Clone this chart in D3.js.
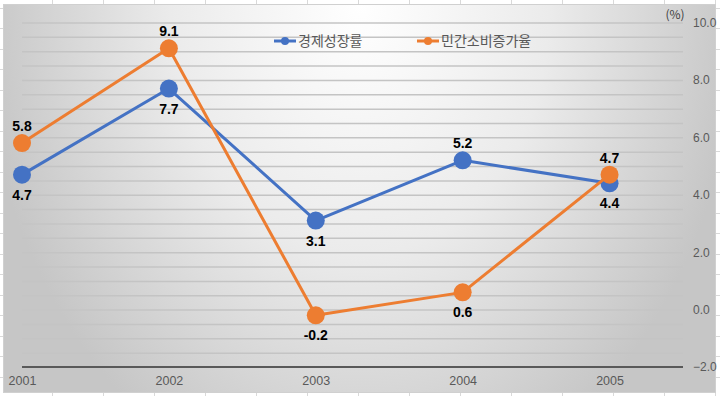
<!DOCTYPE html>
<html>
<head>
<meta charset="utf-8">
<script src="https://cdn.jsdelivr.net/npm/d3@7"></script>
<style>
  body { margin: 0; background: #fff; }
  svg { display: block; font-family: "Noto Sans CJK KR", "Noto Sans", sans-serif; }
</style>
</head>
<body>
<script>
const years = ["2001", "2002", "2003", "2004", "2005"];
const growth = [4.7, 7.7, 3.1, 5.2, 4.4];       // 경제성장률
const consumption = [5.8, 9.1, -0.2, 0.6, 4.7]; // 민간소비증가율
const yTicks = [-2, 0, 2, 4, 6, 8, 10];
const seriesNames = ["경제성장률", "민간소비증가율"];

const W = 720, H = 396;
const svg = d3.select("body").append("svg").attr("width", W).attr("height", H);

// spreadsheet cells behind the chart
const sheet = svg.append("g").attr("stroke", "#d9d9d9").attr("stroke-width", 1);
d3.range(52, W, 51).forEach(x => sheet.append("line").attr("x1", x + 0.5).attr("x2", x + 0.5).attr("y1", 0).attr("y2", H));
d3.range(7.5, H, 20.5).forEach(y => sheet.append("line").attr("x1", 0).attr("x2", W).attr("y1", Math.round(y) + 0.5).attr("y2", Math.round(y) + 0.5));

// chart area background: light at top centre, grey towards the sides
const defs = svg.append("defs");
const grad = defs.append("radialGradient").attr("id", "bg")
  .attr("gradientUnits", "userSpaceOnUse")
  .attr("cx", 360).attr("cy", 4).attr("fx", 360).attr("fy", 4).attr("r", 380)
  .attr("gradientTransform", "translate(360,4) scale(1,1.32) translate(-360,-4)");
grad.append("stop").attr("offset", 0).attr("stop-color", "#ffffff");
grad.append("stop").attr("offset", 0.5).attr("stop-color", "#ebebeb");
grad.append("stop").attr("offset", 1).attr("stop-color", "#c6c6c6");

svg.append("rect").attr("x", 3.5).attr("y", 4.5).attr("width", 712).attr("height", 388)
  .attr("fill", "url(#bg)").attr("stroke", "#d0d0d0");

const x = d3.scaleLinear().domain([0, 4.5]).range([22, 683]);
const y = d3.scaleLinear().domain([-2, 10]).range([367, 22.5]);

// minor gridlines every 0.5
const grid = svg.append("g").attr("transform", `translate(${x(4.5)},0)`)
  .call(d3.axisLeft(y).tickValues(d3.range(-1.5, 10.01, 0.5)).tickSize(x(4.5) - x(0)).tickFormat(""));
grid.select(".domain").remove();
grid.selectAll("line").attr("stroke", "#c4c4c4").attr("stroke-width", 1.5);

// baseline
svg.append("line").attr("x1", x(0)).attr("x2", x(4.5)).attr("y1", y(-2)).attr("y2", y(-2))
  .attr("stroke", "#595959").attr("stroke-width", 1.8);

// right value axis
const yAxis = svg.append("g").attr("transform", "translate(693,0)")
  .call(d3.axisRight(y).tickValues(yTicks).tickSize(0).tickPadding(0).tickFormat(d3.format(".1f")));
yAxis.select(".domain").remove();
yAxis.selectAll("text").attr("fill", "#595959").style("font-size", "12px")
  .style("font-family", "'Liberation Sans', 'Noto Sans', sans-serif");

svg.append("text").attr("x", 675).attr("y", 19).attr("text-anchor", "middle")
  .attr("fill", "#404040").style("font-size", "12px").text("(%)");

// category axis
const xAxis = svg.append("g").attr("transform", "translate(0,376)")
  .call(d3.axisBottom(x).tickValues(d3.range(years.length)).tickSize(0).tickPadding(0).tickFormat(i => years[i]));
xAxis.select(".domain").remove();
xAxis.selectAll("text").attr("fill", "#595959").style("font-size", "12.5px")
  .style("font-family", "'Liberation Sans', 'Noto Sans', sans-serif");

const colors = ["#4472C4", "#ED7D31"];
const series = [growth, consumption];
const line = d3.line().x((d, i) => x(i)).y(d => y(d));

series.forEach((vals, s) => {
  const g = svg.append("g");
  g.append("path").datum(vals).attr("d", line).attr("fill", "none")
    .attr("stroke", colors[s]).attr("stroke-width", 3).attr("stroke-linejoin", "round");
  g.selectAll("circle").data(vals).join("circle")
    .attr("cx", (d, i) => x(i)).attr("cy", d => y(d)).attr("r", 9).attr("fill", colors[s]);
});

// data labels: above or below each marker
const labelPos = [
  ["below", "below", "below", "above", "below"],
  ["above", "above", "below", "below", "above"]
];
series.forEach((vals, s) => {
  svg.append("g").selectAll("text").data(vals).join("text")
    .attr("x", (d, i) => x(i))
    .attr("y", (d, i) => y(d) + (labelPos[s][i] === "above" ? -12 : 25))
    .attr("text-anchor", "middle").attr("font-weight", "bold")
    .style("font-size", "14px").style("font-family", "'Liberation Sans', 'Noto Sans', sans-serif")
    .attr("fill", "#000").text(d => d.toFixed(1));
});

// legend
const legendX = [274, 417];
seriesNames.forEach((name, s) => {
  const lg = svg.append("g").attr("transform", `translate(${legendX[s]},41)`);
  lg.append("line").attr("x1", 0).attr("x2", 22).attr("stroke", colors[s]).attr("stroke-width", 3);
  lg.append("circle").attr("cx", 11).attr("r", 4).attr("fill", colors[s]);
  lg.append("text").attr("x", 24).attr("y", 5).attr("fill", "#595959").style("font-size", "14px").text(name);
});
</script>
</body>
</html>
